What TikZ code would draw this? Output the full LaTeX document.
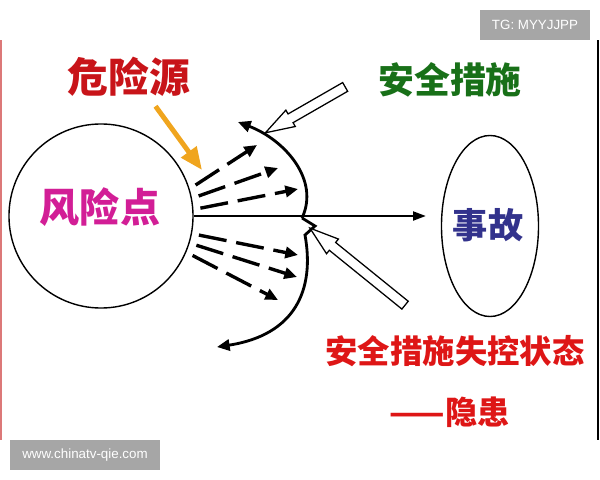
\documentclass[tikz,border=0pt]{standalone}
\usepackage{fontspec}
\newfontfamily\cjk{Noto Sans CJK SC}
\newfontfamily\wmfont{Liberation Sans}
\usetikzlibrary{arrows.meta,shapes.geometric,shapes.arrows}

\definecolor{hazardred}{RGB}{200,20,25}
\definecolor{failred}{RGB}{222,22,22}
\definecolor{guardgreen}{RGB}{24,112,24}
\definecolor{riskpink}{RGB}{210,30,150}
\definecolor{accblue}{RGB}{50,50,140}
\definecolor{hazardorange}{RGB}{240,165,30}
\definecolor{wmgray}{RGB}{166,166,166}
\definecolor{edgered}{RGB}{220,120,120}

\tikzset{
  cjktext/.style={font={\cjk\bfseries\fontsize{#1pt}{#1pt}\selectfont}},
  wmbox/.style={fill=wmgray, text=white, minimum height=0.75cm,
    font={\wmfont\fontsize{9.5pt}{10pt}\selectfont}},
  dasharrow/.style={line width=2.4pt, dash pattern=on 20pt off 7pt,
    shorten <=5pt, -{Triangle[length=9pt,width=8pt]}},
  curvearrow/.style={line width=2pt, -{Triangle[length=9pt,width=8pt]}},
  hollowarrow/.style={single arrow, draw, fill=white, line width=0.9pt,
    inner sep=0pt, inner ysep=0.11cm, single arrow head extend=0.11cm,
    single arrow tip angle=36}
}

\begin{document}
\begin{tikzpicture}[x=0.025cm,y=-0.025cm]

  \useasboundingbox (0,0) rectangle (600,480);

  % frame of the panel
  \draw[edgered, line width=1pt] (1,40) -- (1,440);
  \draw[line width=1pt] (598,40) -- (598,440);

  \node[wmbox, minimum width=2.75cm] (tgmark) at (535,25) {TG: MYYJJPP};
  \node[wmbox, minimum width=3.75cm] (webmark) at (85,455) {www.chinatv-qie.com};

  \begin{scope}[every node/.style={draw, line width=1pt}]
    \node[circle, minimum size=4.6cm] (risk) at (101,216) {};
    \node[ellipse, minimum width=2.425cm, minimum height=4.525cm] (accident) at (490,226) {};
  \end{scope}

  \node[cjktext=28.5, text=riskpink] (risklbl) at (100,207) {风险点};
  \node[cjktext=25, text=accblue] (acclbl) at (488,225) {事故};
  \node[cjktext=29, text=hazardred] (hazard) at (129,77) {危险源};
  \node[cjktext=25.5, text=guardgreen] (guard) at (450,80) {安全措施};
  \node[cjktext=23, text=failred] (fail) at (455,351) {安全措施失控状态};
  \node[cjktext=23, text=failred] (hidden) at (450,412) {——隐患};

  % hazard arrow
  \coordinate (hazardtip) at (202,170);
  \draw[hazardorange, line width=3.5pt, shorten <=4pt,
    -{Triangle[length=16pt,width=13pt]}] ([xshift=0.58cm]hazard.south) -- (hazardtip);

  % main line to the accident
  \draw[line width=1.1pt, shorten >=10.7pt, -{Triangle[length=9pt,width=6.5pt]}]
    (risk.east) -- (risk.east -| accident.west);

  % dashed arrows
  \coordinate (t1) at (257,145);
  \coordinate (t2) at (278,168);
  \coordinate (t3) at (298,189);
  \coordinate (t4) at (298,255);
  \coordinate (t5) at (297,277);
  \coordinate (t6) at (278,300);
  \foreach \ang/\tip in {17/t1, 11/t2, 4/t3, -11/t4, -17/t5, -23/t6}
    \draw[dasharrow] (risk.\ang) -- (\tip);

  % barrier curves
  \coordinate (kink) at (302,218);
  \coordinate (notcha) at (315,226);
  \coordinate (notchb) at (305,235);
  \coordinate (upend) at (238,122);
  \coordinate (lowend) at (217,347);
  \draw[curvearrow] (kink) .. controls (320,180) and (285,140) .. (upend);
  \draw[curvearrow] (kink) -- (notcha) -- (notchb)
    .. controls (315,290) and (295,335) .. (lowend);

  % hollow arrows
  \node[hollowarrow, minimum height=2.3cm, rotate=209.9] (guardon) at (312,106) {};
  \node[hollowarrow, minimum height=3.06cm, rotate=141] (guardoff) at (363.5,271.5) {};

\end{tikzpicture}
\end{document}
